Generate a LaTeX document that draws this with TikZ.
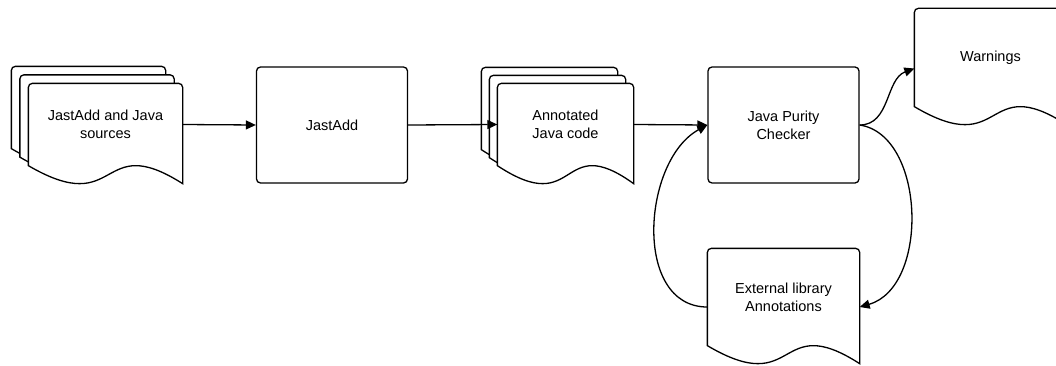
\documentclass[tikz,border=0pt]{standalone}
\usepackage{fontspec}
\setmainfont{Liberation Sans}
\usetikzlibrary{arrows.meta,calc,backgrounds}

\tikzset{
	box/.style={draw, rounded corners=4pt, minimum width=151pt, minimum height=116pt, inner sep=0pt, align=center},
	doc/.style 2 args={minimum width=#1, minimum height=#2, inner sep=0pt, align=center},
	sheet/.style={draw, fill=white, line width=1.3pt},
	link/.style={-{Triangle[length=10pt,width=9pt]}}
}

% document shape round a node: wavy bottom
\newcommand{\docsheet}[1]{%
	\draw[sheet] (#1.south west) [rounded corners=4pt] -- (#1.north west) -- (#1.north east)
		[sharp corners] -- ([yshift=-18pt]#1.south east)
		.. controls ($(#1.south west)!0.45!(#1.south east)+(0,36pt)$)
		and ($(#1.south west)!0.6!(#1.south east)+(0,-54pt)$) .. cycle;}

\begin{document}
\begin{tikzpicture}[x=1pt, y=1pt, line width=1.3pt, font=\fontsize{14.5}{18}\selectfont]
	\useasboundingbox (0,0) rectangle (1056,365);

	\node[doc={153pt}{81pt}] (src) at (105.5,240.5) {JastAdd and Java\\sources};
	\node[doc={153pt}{81pt}] (src1) at ([shift={(-8.5,8.5)}]src.center) {};
	\node[doc={153pt}{81pt}] (src2) at ([shift={(-8.5,8.5)}]src1.center) {};

	\node[box] (jast) at (332,240) {JastAdd};

	\node[doc={135pt}{81pt}] (ann) at (565.5,240.5) {Annotated\\Java code};
	\node[doc={135pt}{81pt}] (ann1) at ([shift={(-8,8)}]ann.center) {};
	\node[doc={135pt}{81pt}] (ann2) at ([shift={(-8,8)}]ann1.center) {};

	\node[box] (jpc) at (783.5,240) {Java Purity\\Checker};
	\node[doc={151pt}{97pt}] (warn) at (990.5,307.5) {Warnings};
	\node[doc={151pt}{96pt}] (ext) at (783.5,68) {External library\\Annotations};

	\begin{scope}[on background layer]
		\docsheet{src2} \docsheet{src1} \docsheet{src}
		\docsheet{ann2} \docsheet{ann1} \docsheet{ann}
		\docsheet{warn}
		\docsheet{ext}
	\end{scope}

	\draw[link] (src.east) -- (jast.west);
	\draw[link] (jast.east) -- (ann.west);
	\draw[link] (ann.east) -- (jpc.west);
	\draw[link] (jpc.east) to[out=0,in=200] ([yshift=-11pt]warn.west);

	% loop through the external annotations
	\draw[link] ([yshift=-10pt]ext.west) .. controls +(-75,0) and +(-65,-35) .. (jpc.west);
	\draw[link] (jpc.east) .. controls +(66,-10) and +(70,20) .. ([yshift=-10pt]ext.east);
\end{tikzpicture}
\end{document}
